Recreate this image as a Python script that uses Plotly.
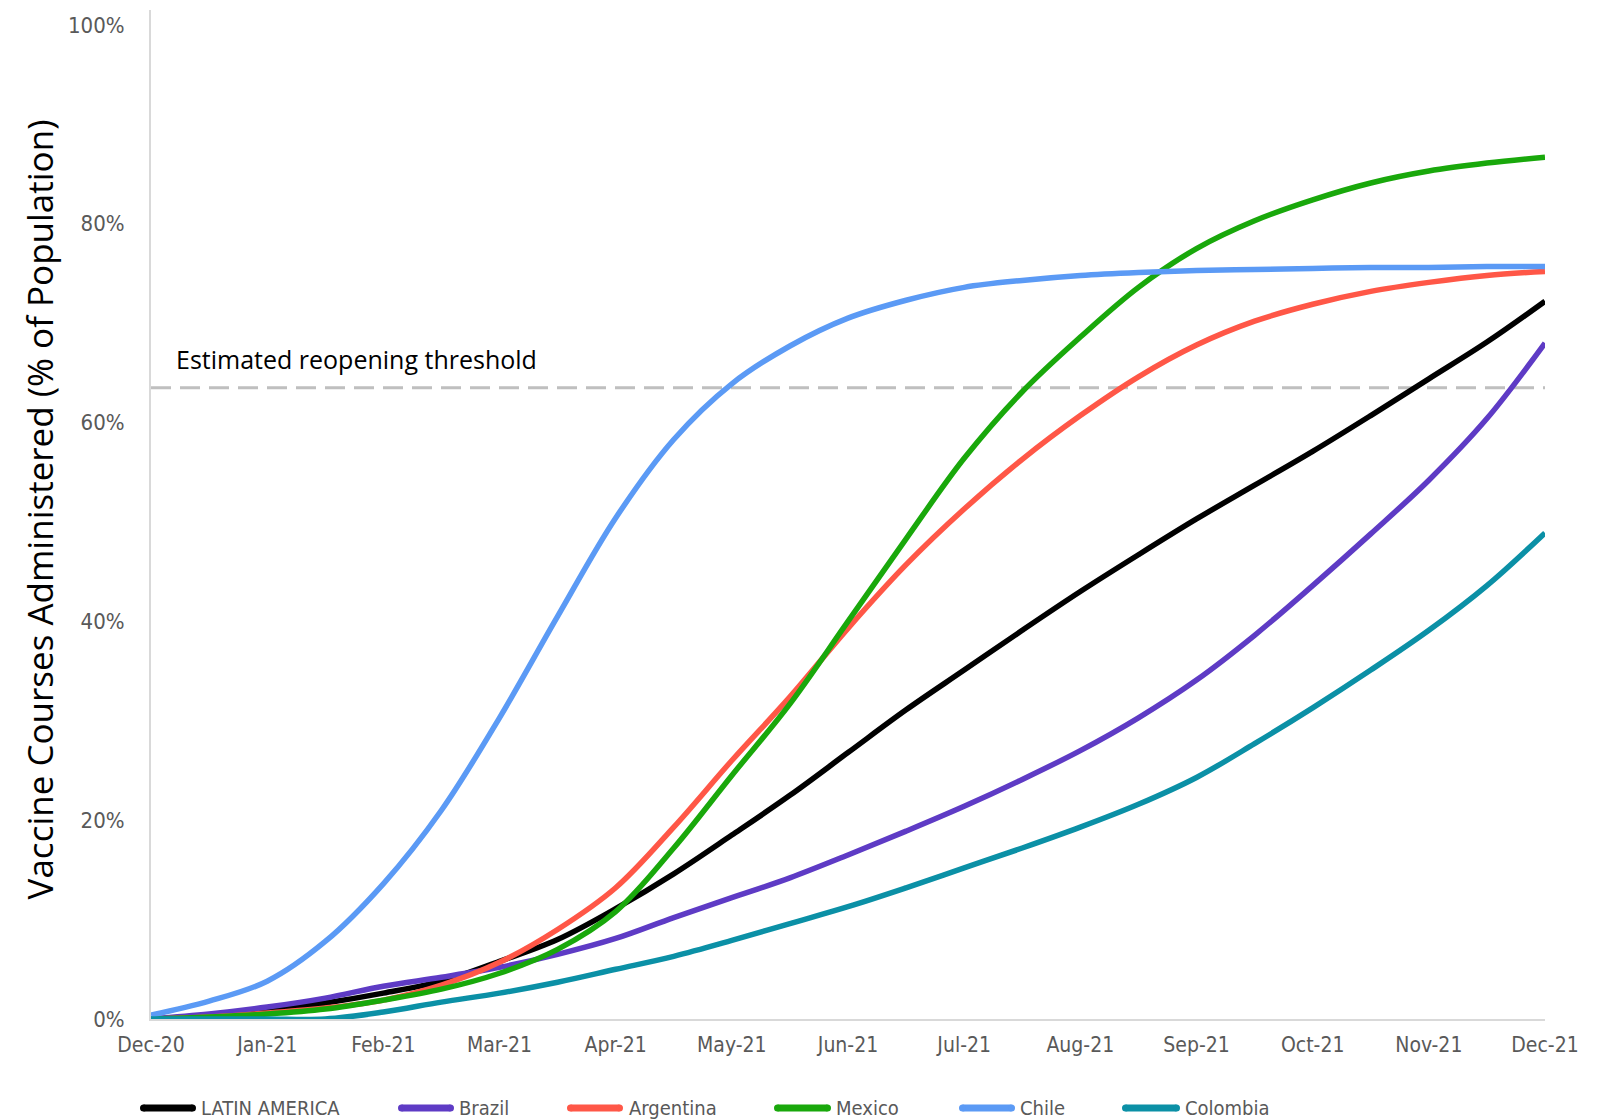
import plotly.graph_objects as go

# Month index (0 = Dec-20 ... 12 = Dec-21), sampled twice a month
months = [0, 0.5, 1, 1.5, 2, 2.5, 3, 3.5, 4, 4.5, 5, 5.5, 6, 6.5, 7, 7.5, 8, 8.5,
          9, 9.5, 10, 10.5, 11, 11.5, 12]
month_ticks = [0, 1, 2, 3, 4, 5, 6, 7, 8, 9, 10, 11, 12]
month_labels = ["Dec-20", "Jan-21", "Feb-21", "Mar-21", "Apr-21", "May-21", "Jun-21",
                "Jul-21", "Aug-21", "Sep-21", "Oct-21", "Nov-21", "Dec-21"]

# Cumulative vaccine courses administered, % of population
latin_america = [0, 0.3, 0.8, 1.6, 2.6, 3.8, 5.8, 8.0, 11.1, 14.6, 18.5, 22.5, 26.8,
                 31.1, 35.1, 39.1, 43.0, 46.7, 50.3, 53.7, 57.1, 60.7, 64.4, 68.1, 72.2]
brazil = [0, 0.5, 1.2, 2.1, 3.3, 4.2, 5.2, 6.5, 8.1, 10.2, 12.2, 14.2, 16.5, 18.9,
          21.4, 24.1, 27.0, 30.3, 34.1, 38.6, 43.6, 48.8, 54.2, 60.4, 68.0]
argentina = [0, 0.2, 0.6, 1.1, 1.9, 3.4, 5.7, 9.0, 13.2, 19.3, 26.0, 32.4, 39.3, 45.7,
             51.3, 56.3, 60.7, 64.6, 67.8, 70.2, 71.9, 73.2, 74.1, 74.8, 75.2]
mexico = [0, 0.2, 0.5, 1.0, 1.9, 3.0, 4.6, 7.0, 10.8, 17.2, 24.5, 31.7, 40.0, 48.3,
          56.4, 63.1, 68.6, 73.6, 77.5, 80.3, 82.4, 84.1, 85.3, 86.1, 86.7]
chile = [0.4, 1.8, 3.8, 7.8, 13.6, 21.0, 30.3, 40.5, 50.4, 58.3, 63.9, 67.7, 70.5,
         72.3, 73.6, 74.3, 74.8, 75.1, 75.3, 75.4, 75.5, 75.6, 75.6, 75.7, 75.7]
colombia = [0, 0, 0, 0, 0.7, 1.7, 2.6, 3.7, 5.0, 6.3, 7.9, 9.6, 11.3, 13.2, 15.2,
            17.2, 19.3, 21.6, 24.3, 27.7, 31.3, 35.1, 39.1, 43.6, 48.9]

series_names = ["LATIN AMERICA", "Brazil", "Argentina", "Mexico", "Chile", "Colombia"]
series_values = [latin_america, brazil, argentina, mexico, chile, colombia]
series_colors = ["#000000", "#5E3BC5", "#FF5747", "#19A80B", "#5B9AF5", "#0B90A6"]

reopening_threshold = 63.5
y_ticks = [0, 20, 40, 60, 80, 100]
y_labels = ["0%", "20%", "40%", "60%", "80%", "100%"]

# Plot-area geometry in pixels (used for the hand-drawn legend)
W, H = 1601, 1120
ML, MR, MT, MB = 151, 56, 10, 101
PW, PH = W - ML - MR, H - MT - MB

def px_x(px):
    return (px - ML) / PW

def px_y(py):
    return (H - MB - py) / PH

narrow = "DejaVu Sans Condensed, Liberation Sans Narrow, sans-serif"
label_grey = "#595959"

fig = go.Figure()
for name, vals, color in zip(series_names, series_values, series_colors):
    fig.add_trace(go.Scatter(
        x=months, y=vals, name=name, mode="lines",
        line=dict(color=color, width=5.5, shape="spline", smoothing=1.0),
        showlegend=False,
    ))

# Dashed reopening threshold
fig.add_shape(type="line", xref="paper", yref="y", x0=0, x1=1,
              y0=reopening_threshold, y1=reopening_threshold,
              line=dict(color="#BFBFBF", width=3, dash="20px,9px"), layer="below")
fig.add_annotation(text="Estimated reopening threshold", xref="paper", yref="y",
                   x=px_x(174), y=reopening_threshold + 2.9, xanchor="left",
                   yanchor="middle", showarrow=False,
                   font=dict(family="Open Sans", size=25, color="#000000"))

# Y-axis title
fig.add_annotation(text="Vaccine Courses Administered (% of Population)",
                   xref="paper", yref="paper", x=px_x(39), y=0.505,
                   xanchor="center", yanchor="middle", textangle=-90,
                   showarrow=False,
                   font=dict(family="Open Sans", size=35, color="#000000"))

# Legend drawn below the axis: (line start, line end, text start) in pixels
legend_slots = [(140, 196, 199), (398, 454, 457), (567, 623, 627),
                (774, 831, 834), (959, 1015, 1018), (1122, 1180, 1183)]
legend_y = 1108
cap = 3.5
for (x0, x1, xt), name, color in zip(legend_slots, series_names, series_colors):
    fig.add_shape(type="line", xref="paper", yref="paper",
                  x0=px_x(x0 + cap), x1=px_x(x1 - cap),
                  y0=px_y(legend_y), y1=px_y(legend_y),
                  line=dict(color=color, width=7))
    for cx in (x0 + cap, x1 - cap):
        fig.add_shape(type="circle", xref="paper", yref="paper",
                      x0=px_x(cx - cap), x1=px_x(cx + cap),
                      y0=px_y(legend_y + cap), y1=px_y(legend_y - cap),
                      fillcolor=color, line=dict(width=0))
    fig.add_annotation(text=name, xref="paper", yref="paper",
                       x=px_x(xt), y=px_y(legend_y), xanchor="left",
                       yanchor="middle", showarrow=False,
                       font=dict(family=narrow, size=20, color=label_grey))

fig.update_layout(
    width=W, height=H,
    margin=dict(l=ML, r=MR, t=MT, b=MB),
    paper_bgcolor="white", plot_bgcolor="white",
    xaxis=dict(range=[0, 12], tickvals=month_ticks, ticktext=month_labels,
               showgrid=False, zeroline=False, showline=True,
               linecolor="#D9D9D9", linewidth=2, ticks="",
               ticklabelstandoff=6,
               tickfont=dict(family=narrow, size=21, color=label_grey)),
    yaxis=dict(range=[0, 101.5], tickvals=y_ticks, ticktext=y_labels,
               showgrid=False, zeroline=False, showline=True,
               linecolor="#D9D9D9", linewidth=2, ticks="",
               ticklabelstandoff=20,
               tickfont=dict(family=narrow, size=22, color=label_grey)),
)

fig.write_html("out.html")
